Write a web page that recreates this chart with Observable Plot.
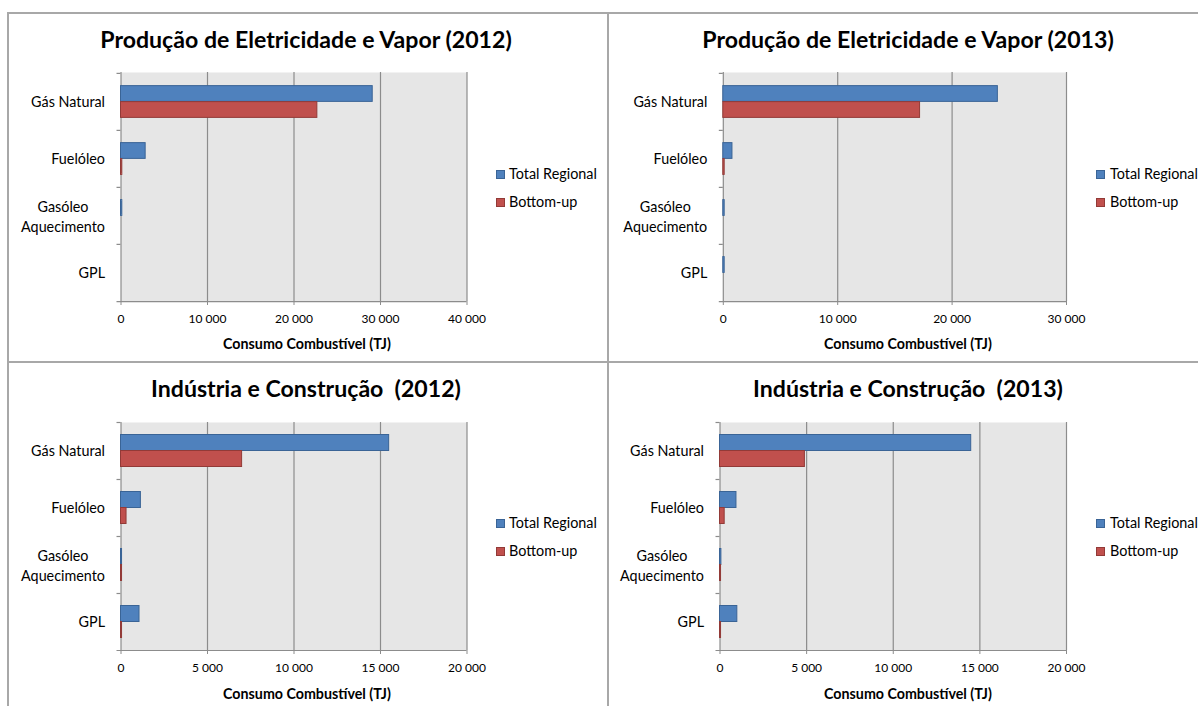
<!DOCTYPE html>
<html>
<head>
<meta charset="utf-8">
<script src="https://cdn.jsdelivr.net/npm/d3@7"></script>
<script src="https://cdn.jsdelivr.net/npm/@observablehq/plot@0.6"></script>
<style>
  body { margin: 0; background: #fff; }
  #root { position: relative; width: 1198px; height: 706px; overflow: hidden; font-family: Lato, sans-serif; color: #000; }
  .abs { position: absolute; white-space: pre; }
  .line { position: absolute; background: #a8a8a8; }
  svg { overflow: visible; }
</style>
</head>
<body>
<div id="root"></div>
<script>
// ---------- DATA ----------
const categories = ["Gás Natural", "Fuelóleo", "Gasóleo Aquecimento", "GPL"];
const categoryLabels = ["Gás Natural", "Fuelóleo", "Gasóleo\nAquecimento", "GPL"];
const seriesNames = ["Total Regional", "Bottom-up"];
const panelTitles = [
  "Produção de Eletricidade e Vapor (2012)",
  "Produção de Eletricidade e Vapor (2013)",
  "Indústria e Construção  (2012)",
  "Indústria e Construção  (2013)"
];
const xAxisTitle = "Consumo Combustível (TJ)";

const elecTotal2012  = [29100, 2850, 150, 0];
const elecBottom2012 = [22700, 150, 0, 0];
const elecTotal2013  = [24000, 800, 120, 120];
const elecBottom2013 = [17200, 120, 0, 0];
const indTotal2012   = [15500, 1150, 60, 1070];
const indBottom2012  = [7000, 320, 60, 60];
const indTotal2013   = [14500, 950, 80, 1000];
const indBottom2013  = [4900, 270, 60, 60];

const ticksElec2012 = [0, 10000, 20000, 30000, 40000];
const ticksElec2013 = [0, 10000, 20000, 30000];
const ticksInd = [0, 5000, 10000, 15000, 20000];

const totals = [elecTotal2012, elecTotal2013, indTotal2012, indTotal2013];
const bottoms = [elecBottom2012, elecBottom2013, indBottom2012, indBottom2013];
const tickSets = [ticksElec2012, ticksElec2013, ticksInd, ticksInd];

// ---------- STYLE / LAYOUT ----------
const blue = "#4f81bd", blueStroke = "#3a6496";
const red = "#c0504d", redStroke = "#923a37";
const gridColor = "#8c8c8c";
const plotBg = "#e6e6e6";
const FONT = "Lato";

const layout = [
  {svgLeft: 8,   svgTop: 60,  width: 600, height: 300, plotLeft: 120.5, plotRight: 466.5, plotTop: 72,  plotBottom: 301, titleCx: 306, titleCy: 41,  axisTitleCx: 307, axisTitleCy: 344, swX: 496,  textX: 509,  legendCy: [174, 202]},
  {svgLeft: 608, svgTop: 60,  width: 590, height: 300, plotLeft: 722.8, plotRight: 1066,  plotTop: 72,  plotBottom: 301, titleCx: 908, titleCy: 41,  axisTitleCx: 908, axisTitleCy: 344, swX: 1096, textX: 1110, legendCy: [174, 202]},
  {svgLeft: 8,   svgTop: 410, width: 600, height: 296, plotLeft: 120.5, plotRight: 466.5, plotTop: 422, plotBottom: 650, titleCx: 306, titleCy: 390, axisTitleCx: 307, axisTitleCy: 694, swX: 496,  textX: 509,  legendCy: [523, 551]},
  {svgLeft: 608, svgTop: 410, width: 590, height: 296, plotLeft: 719.5, plotRight: 1066,  plotTop: 422, plotBottom: 650, titleCx: 908, titleCy: 390, axisTitleCx: 908, axisTitleCy: 694, swX: 1096, textX: 1110, legendCy: [523, 551]}
];

const ctx = document.createElement("canvas").getContext("2d");
function fit(text, weight, target) {
  ctx.font = `${weight} 100px ${FONT}`;
  return 100 * target / ctx.measureText(text).width;
}
const titleSize = fit(panelTitles[0], 700, 413);
const ySize = fit("Gás Natural", 400, 74);
const xTickSize = 12;
const axisTitleSize = fit(xAxisTitle, 700, 168);
const legendSize = fit("Total Regional", 400, 88);

const fmt = d => d3.format(",")(d).replace(/,/g, " ");

const root = document.getElementById("root");

function line(l, t, w, h) {
  const d = document.createElement("div");
  d.className = "line";
  Object.assign(d.style, {left: l + "px", top: t + "px", width: w + "px", height: h + "px"});
  root.appendChild(d);
}
line(7, 12, 1191, 2);
line(7, 12, 2, 694);
line(607, 12, 2, 694);
line(7, 361, 1191, 2);

function addText(text, cx, cy, size, weight, anchor) {
  const d = document.createElement("div");
  d.className = "abs";
  d.textContent = text;
  d.style.fontSize = size + "px";
  d.style.fontWeight = weight;
  d.style.lineHeight = "1.2";
  d.style.top = (cy - 0.63 * size) + "px";
  if (anchor === "middle") {
    d.style.left = (cx - 400) + "px";
    d.style.width = "800px";
    d.style.textAlign = "center";
  } else {
    d.style.left = cx + "px";
  }
  root.appendChild(d);
}

function drawPanel(i) {
  const L = layout[i];
  const ticks = tickSets[i];
  const rows = categories.map((c, k) => ({cat: c, label: categoryLabels[k], total: totals[i][k], bottom: bottoms[i][k]}));
  const band = (L.plotBottom - L.plotTop) / categories.length;
  const c = band / 2, bh = 16;
  const xmax = ticks[ticks.length - 1];
  const last = categories[categories.length - 1];

  const chart = Plot.plot({
    width: L.width,
    height: L.height,
    marginLeft: L.plotLeft - L.svgLeft,
    marginRight: L.svgLeft + L.width - L.plotRight,
    marginTop: L.plotTop - L.svgTop,
    marginBottom: L.svgTop + L.height - L.plotBottom,
    style: {fontFamily: FONT, fontSize: ySize + "px", color: "#000", background: "transparent", overflow: "visible"},
    x: {domain: [0, xmax], axis: null},
    y: {domain: categories, padding: 0, axis: null},
    marks: [
      Plot.frame({fill: plotBg, stroke: "none"}),
      Plot.ruleX(ticks, {stroke: gridColor, strokeWidth: 1.2}),
      Plot.ruleY(categories, {dy: -band / 2, x1: 0, x2: 0, insetLeft: -4, stroke: gridColor, strokeWidth: 1.2}),
      Plot.ruleY([last], {dy: band / 2, x1: 0, x2: xmax, insetLeft: -4, stroke: gridColor, strokeWidth: 1.2}),
      Plot.axisX({ticks, tickFormat: fmt, tickSize: 4, tickPadding: 9, fontSize: xTickSize, stroke: gridColor, fill: "#000", label: null}),
      Plot.barX(rows.filter(r => r.total > 0), {y: "cat", x: "total", fill: blue, stroke: blueStroke, strokeWidth: 1, insetTop: c - bh, insetBottom: band - c}),
      Plot.barX(rows.filter(r => r.bottom > 0), {y: "cat", x: "bottom", fill: red, stroke: redStroke, strokeWidth: 1, insetTop: c, insetBottom: band - c - bh}),
      Plot.text(rows.filter(r => !r.label.includes("\n")), {y: "cat", text: "label", frameAnchor: "left", textAnchor: "end", dx: -16, fill: "#000"}),
      Plot.text(rows.filter(r => r.label.includes("\n")), {y: "cat", text: "label", frameAnchor: "left", textAnchor: "middle", dx: -58, lineHeight: 1.4, fill: "#000"})
    ]
  });
  chart.style.position = "absolute";
  chart.style.left = L.svgLeft + "px";
  chart.style.top = L.svgTop + "px";
  root.appendChild(chart);

  addText(panelTitles[i], L.titleCx, L.titleCy, titleSize, 700, "middle");
  addText(xAxisTitle, L.axisTitleCx, L.axisTitleCy, axisTitleSize, 700, "middle");

  [[blue, blueStroke], [red, redStroke]].forEach(([f, s], k) => {
    const sw = document.createElement("div");
    sw.className = "abs";
    Object.assign(sw.style, {left: L.swX + "px", top: (L.legendCy[k] - 4.5) + "px", width: "9px", height: "9px",
      background: f, border: "1px solid " + s, boxSizing: "border-box"});
    root.appendChild(sw);
    addText(seriesNames[k], L.textX, L.legendCy[k], legendSize, 400, "start");
  });
}

for (let i = 0; i < 4; i++) drawPanel(i);
</script>
</body>
</html>
